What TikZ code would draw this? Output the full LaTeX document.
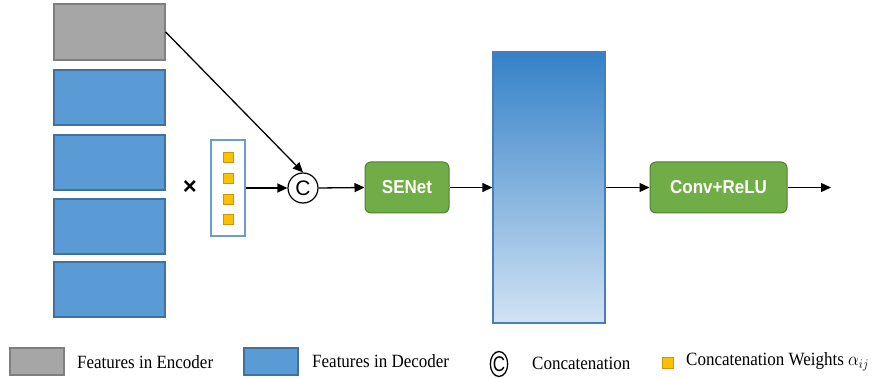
\documentclass[tikz,border=0pt]{standalone}
\usepackage{fontspec}
\setmainfont{Liberation Serif}
\newfontfamily\arialfont{Liberation Sans}
\usetikzlibrary{arrows.meta,shapes.geometric}
\definecolor{encf}{HTML}{A6A6A6}
\definecolor{encb}{HTML}{7F7F7F}
\definecolor{decf}{HTML}{5B9BD5}
\definecolor{decb}{HTML}{41719C}
\definecolor{grnf}{HTML}{70AD47}
\definecolor{grnb}{HTML}{507E32}
\definecolor{wtf}{HTML}{FFC000}
\definecolor{wtb}{HTML}{C8960A}
\definecolor{wbox}{HTML}{6C9BD0}
\definecolor{gradtop}{HTML}{3481C8}
\definecolor{gradbot}{HTML}{D2E3F4}
\definecolor{bigb}{HTML}{4A7EBB}
\begin{document}
\begin{tikzpicture}[x=1pt,y=-1pt,
  enc/.style={draw=encb, fill=encf, line width=1.3pt, minimum width=111pt, minimum height=56pt, inner sep=0pt},
  dec/.style={draw=decb, fill=decf, line width=1.3pt, minimum width=111pt, minimum height=55pt, inner sep=0pt},
  wsq/.style={draw=wtb, fill=wtf, line width=1pt, minimum size=10pt, inner sep=0pt},
  gbox/.style={draw=grnb, fill=grnf, line width=1pt, rounded corners=6pt, inner sep=0pt, text=white, font=\arialfont\bfseries\fontsize{17}{20}\selectfont},
  conn/.style={line width=1.3pt, -{Triangle[length=10pt,width=9pt]}},
  lgtext/.style={anchor=west, inner sep=0pt, font=\fontsize{17}{20}\selectfont}
]
\useasboundingbox (0,0) rectangle (878,379);
% encoder / decoder features
\node[enc] (enc) at (109.5,32) {};
\node[dec] (d1) at (109.5,97.5) {};
\node[dec] (d2) at (109.5,162.5) {};
\node[dec] (d3) at (109.5,226.5) {};
\node[dec] (d4) at (109.5,289.5) {};
% times
\node[inner sep=0pt, font=\arialfont\bfseries\fontsize{24}{24}\selectfont] (times) at (190,188) {×};
% weights box
\node[draw=wbox, fill=white, line width=1.3pt, minimum width=34pt, minimum height=96pt, inner sep=0pt] (wb) at (228,188) {};
\node[wsq] (w1) at (228,158) {};
\node[wsq] (w2) at (228,179) {};
\node[wsq] (w3) at (228,199.5) {};
\node[wsq] (w4) at (228,220) {};
% concatenation
\node[circle, draw, line width=1.2pt, minimum size=30pt, inner sep=0pt, font=\arialfont\fontsize{21}{21}\selectfont] (cat) at (303,188) {C};
% SENet
\node[gbox, minimum width=84pt, minimum height=51pt] (se) at (407,187.5) {\scalebox{1}[1.1]{SENet}};
% big feature
\node[draw=bigb, line width=1.3pt, top color=gradtop, bottom color=gradbot, minimum width=112pt, minimum height=271pt, inner sep=0pt] (big) at (549,187.5) {};
% Conv+ReLU
\node[gbox, minimum width=137pt, minimum height=51pt] (conv) at (718.5,187.5) {\scalebox{1}[1.1]{Conv+ReLU}};
\coordinate (out) at (831,187.5);
% connectors
\draw[conn] (enc.east) -- (cat.north);
\draw[conn] (wb.east) -- (cat.west);
\draw[conn] (cat.east) -- (se.west);
\draw[conn] (se.east) -- (se.east -| big.west);
\draw[conn] (conv.west -| big.east) -- (conv.west);
\draw[conn] (conv.east) -- (out);
% legend
\node[enc, minimum width=54pt, minimum height=27pt] (lg1) at (37,361.5) {};
\node[lgtext] (lt1) at (77,362) {\scalebox{1}[1.1]{Features in Encoder}};
\node[dec, minimum width=54pt, minimum height=27pt] (lg2) at (271,361.5) {};
\node[lgtext] (lt2) at (312,361) {\scalebox{1}[1.1]{Features in Decoder}};
\node[ellipse, draw, line width=1.3pt, minimum width=17pt, minimum height=25pt, inner sep=0pt, font=\arialfont\fontsize{17}{17}\selectfont] (lg3) at (499,364) {\scalebox{1}[1.25]{C}};
\node[lgtext] (lt3) at (532,363) {\scalebox{1}[1.1]{Concatenation}};
\node[wsq, minimum size=11pt] (lg4) at (667.5,362.5) {};
\node[lgtext] (lt4) at (686,362) {\scalebox{1}[1.1]{Concatenation Weights $\alpha_{ij}$}};
\end{tikzpicture}
\end{document}
